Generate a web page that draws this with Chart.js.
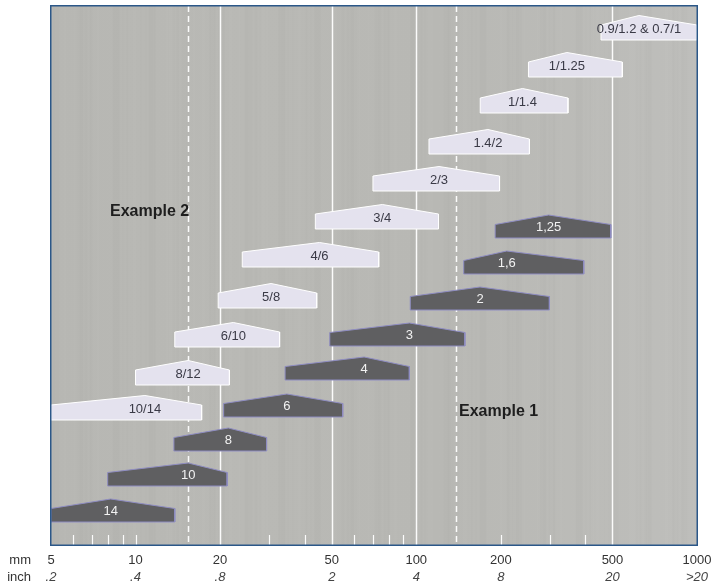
<!DOCTYPE html>
<html><head><meta charset="utf-8">
<script src="https://cdn.jsdelivr.net/npm/chart.js@4.4.1/dist/chart.umd.min.js"></script>
<style>html,body{margin:0;padding:0;background:#fff;}#wrap{width:712px;height:588px;position:relative;}</style>
</head><body><div id="wrap"><canvas id="c"></canvas></div>
<script>
// ---- axis data ----
const mmTicks = [5, 10, 20, 50, 100, 200, 500, 1000];
const mmLabels = ['5', '10', '20', '50', '100', '200', '500', '1000'];
const inchLabels = ['.2', '.4', '.8', '2', '4', '8', '20', '>20'];
const majorLines = [20, 50, 100, 500];
const dashedLines = [15.4, 139];
const minorTicks = [6, 7, 8, 9, 10, 30, 40, 60, 70, 80, 90, 200, 300, 400];

// ---- light (lavender) shapes ----
const lightLabels = ['10/14', '8/12', '6/10', '5/8', '4/6', '3/4', '2/3', '1.4/2', '1/1.4', '1/1.25', '0.9/1.2 & 0.7/1'];
const lightStart = [5, 10, 13.8, 19.7, 24, 43.7, 70.1, 111, 169, 251, 455];
const lightPeak  = [10.8, 15.4, 22.3, 30.4, 45.2, 75.7, 120.5, 180, 239, 344, 621];
const lightEnd   = [17.2, 21.6, 32.6, 44.2, 73.5, 120, 198, 253, 347, 542, 1000];
const lightLevel = [125, 160, 198, 237, 278, 316, 354, 391, 432, 468, 505];

// ---- dark shapes ----
const darkLabels = ['14', '10', '8', '6', '4', '3', '2', '1,6', '1,25'];
const darkStart = [5, 7.96, 13.7, 20.6, 34.1, 49.2, 95.2, 147.6, 191];
const darkPeak  = [8.16, 15.4, 21.4, 34.6, 65.2, 94.6, 168.7, 210, 296];
const darkEnd   = [13.8, 21.2, 29.3, 54.7, 94.5, 149, 298, 395, 493];
const darkLevel = [23, 59, 94, 128, 165, 199, 235, 271, 307];

// ---- annotations ----
const noteTexts = ['Example 2', 'Example 1'];
const noteX = [8.11, 142];
const noteY = [333, 133];

const FONT = "'Liberation Sans', Helvetica, Arial, sans-serif";
const LIGHT_H = 15, DARK_H = 13.5, RISE = 9.5;

function shapeData(s, p, e, b, h) {
  return [
    {x: s, y: b}, {x: s, y: b + h}, {x: p, y: b + h + RISE},
    {x: e, y: b + h}, {x: e, y: b}, {x: s, y: b}
  ];
}
const datasets = [];
lightLabels.forEach((l, i) => datasets.push({
  label: l, data: shapeData(lightStart[i], lightPeak[i], lightEnd[i], lightLevel[i], LIGHT_H),
  backgroundColor: '#e4e2ee', borderColor: '#ffffff', borderWidth: 1, fill: 'shape',
  pointRadius: 0, tension: 0, _kind: 'light', _peak: lightPeak[i], _lvl: lightLevel[i]
}));
darkLabels.forEach((l, i) => datasets.push({
  label: l, data: shapeData(darkStart[i], darkPeak[i], darkEnd[i], darkLevel[i], DARK_H),
  backgroundColor: '#5f5f61', borderColor: '#8f8dc2', borderWidth: 1, fill: 'shape',
  pointRadius: 0, tension: 0, _kind: 'dark', _peak: darkPeak[i], _lvl: darkLevel[i]
}));

const decor = {
  id: 'decor',
  beforeDatasetsDraw(chart) {
    const {ctx, chartArea: a, scales} = chart;
    const xs = scales.x;
    ctx.save();
    const g = ctx.createLinearGradient(a.left, 0, a.right, 0);
    g.addColorStop(0, '#b7b7b3'); g.addColorStop(0.3, '#b9b9b5');
    g.addColorStop(0.6, '#b8b8b4'); g.addColorStop(1, '#bebebb');
    ctx.fillStyle = g;
    ctx.fillRect(a.left, a.top, a.right - a.left, a.bottom - a.top);
    // subtle vertical streaks
    for (let x = Math.floor(a.left); x < a.right; x++) {
      const v = Math.sin(x * 0.53) * 0.6 + Math.sin(x * 0.19 + 1.3) + Math.sin(x * 1.37 + 0.4) * 0.4;
      ctx.fillStyle = v > 0 ? 'rgba(255,255,255,' + (v * 0.012) + ')' : 'rgba(0,0,0,' + (-v * 0.009) + ')';
      ctx.fillRect(x, a.top, 1, a.bottom - a.top);
    }
    ctx.strokeStyle = 'rgba(255,255,255,0.95)';
    ctx.lineWidth = 1.5;
    majorLines.forEach(v => {
      const px = Math.round(xs.getPixelForValue(v)) + 0.5;
      ctx.beginPath(); ctx.moveTo(px, a.top); ctx.lineTo(px, a.bottom); ctx.stroke();
    });
    ctx.setLineDash([6, 4]);
    dashedLines.forEach(v => {
      const px = Math.round(xs.getPixelForValue(v)) + 0.5;
      ctx.beginPath(); ctx.moveTo(px, a.top); ctx.lineTo(px, a.bottom); ctx.stroke();
    });
    ctx.setLineDash([]);
    ctx.lineWidth = 1.2;
    minorTicks.forEach(v => {
      const px = Math.round(xs.getPixelForValue(v)) + 0.5;
      ctx.beginPath(); ctx.moveTo(px, a.bottom); ctx.lineTo(px, a.bottom - 10); ctx.stroke();
    });
    ctx.restore();
  },
  afterDatasetsDraw(chart) {
    const {ctx, chartArea: a, scales} = chart;
    const xs = scales.x, ys = scales.y;
    ctx.save();
    ctx.textAlign = 'center'; ctx.textBaseline = 'middle';
    ctx.font = '13px ' + FONT;
    chart.data.datasets.forEach(ds => {
      ctx.fillStyle = ds._kind === 'light' ? '#3a3a46' : '#f2f2f2';
      let px = xs.getPixelForValue(ds._peak);
      const py = ys.getPixelForValue(ds._lvl + 10.5);
      const w = ctx.measureText(ds.label).width;
      if (px + w / 2 > a.right - 2) px = a.right - 2 - w / 2;
      ctx.fillText(ds.label, px, py);
    });
    ctx.font = 'bold 16px ' + FONT;
    ctx.fillStyle = '#1e1e1e';
    ctx.textAlign = 'left';
    noteTexts.forEach((t, i) => ctx.fillText(t, xs.getPixelForValue(noteX[i]), ys.getPixelForValue(noteY[i])));
    // frame
    ctx.strokeStyle = '#2b5788';
    ctx.lineWidth = 1.5;
    ctx.strokeRect(a.left - 0.25, a.top - 0.25, a.right - a.left + 0.5, a.bottom - a.top + 0.5);
    ctx.restore();
  },
  afterDraw(chart) {
    const {ctx, scales} = chart;
    ctx.save();
    ctx.font = '13px ' + FONT;
    ctx.fillStyle = '#333';
    ctx.textAlign = 'right'; ctx.textBaseline = 'middle';
    ctx.fillText('mm', 31, scales.x.top + 8 + 7.8);
    ctx.fillText('inch', 31, scales.x2.top + 1 + 7.8);
    ctx.restore();
  }
};

function setTicks(scale) { scale.ticks = mmTicks.map(v => ({value: v})); }

new Chart(document.getElementById('c'), {
  type: 'line',
  data: {datasets},
  options: {
    responsive: true, maintainAspectRatio: false, animation: false,
    layout: {padding: {left: 51, right: 15, top: 6, bottom: 0}},
    plugins: {legend: {display: false}, tooltip: {enabled: false}},
    scales: {
      x: {
        type: 'logarithmic', position: 'bottom', min: 5, max: 1000,
        grid: {display: false, drawTicks: false}, border: {display: false},
        afterBuildTicks: setTicks,
        afterFit: s => { s.height = 24; s.paddingLeft = 0; s.paddingRight = 0; },
        ticks: {autoSkip: false, maxRotation: 0, minRotation: 0, padding: 8,
          color: '#333', font: {size: 13, family: FONT},
          callback: (v, i) => mmLabels[i]}
      },
      x2: {
        type: 'logarithmic', position: 'bottom', min: 5, max: 1000,
        grid: {display: false, drawTicks: false}, border: {display: false},
        afterBuildTicks: setTicks,
        afterFit: s => { s.height = 19; s.paddingLeft = 0; s.paddingRight = 0; },
        ticks: {autoSkip: false, maxRotation: 0, minRotation: 0, padding: 1,
          color: '#444', font: {size: 13, style: 'italic', family: FONT},
          callback: (v, i) => inchLabels[i]}
      },
      y: {type: 'linear', display: false, min: 0, max: 539}
    }
  },
  plugins: [decor]
});
</script></body></html>
